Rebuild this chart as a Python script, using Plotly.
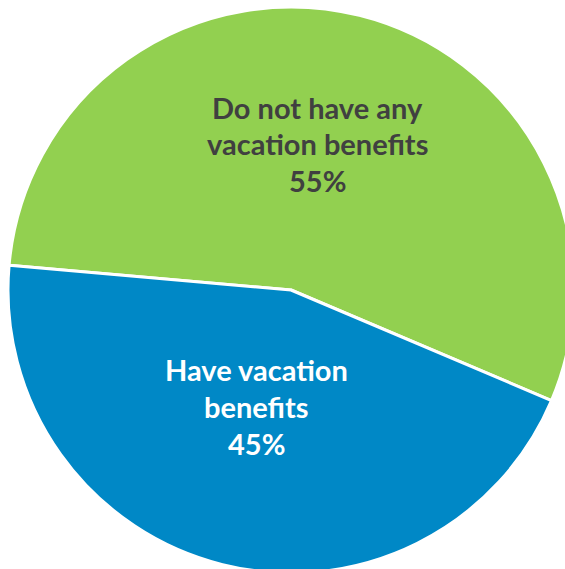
import plotly.graph_objects as go

# Survey split
labels = ["Do not have any vacation benefits", "Have vacation benefits"]
shares = [55, 45]
label_lines = [["Do not have any", "vacation benefits"], ["Have vacation", "benefits"]]
slice_colors = ["#92D050", "#0088C6"]
text_colors = ["#404040", "#FFFFFF"]

# Pie plot area geometry in pixels
SIDE = 566
ML, MT = 291 - SIDE // 2, 290 - SIDE // 2
W, H = ML + SIDE, MT + SIDE

fig = go.Figure(
    go.Pie(
        labels=labels,
        values=shares,
        sort=False,
        direction="clockwise",
        rotation=-85,
        marker=dict(colors=slice_colors, line=dict(color="white", width=3)),
        textinfo="none",
        hoverinfo="label+percent",
        showlegend=False,
    )
)


def to_paper(px, py):
    return (px - ML) / SIDE, 1 - (py - MT) / SIDE


# Label block centres (pixels) and line spacing
label_centres = [(317, 144), (256, 406)]
line_gap = 37

annotations = []
for lines, share, (cx, cy), col in zip(label_lines, shares, label_centres, text_colors):
    rows = lines + [f"{share}%"]
    n = len(rows)
    for i, row in enumerate(rows):
        y = cy + (i - (n - 1) / 2) * line_gap
        x_p, y_p = to_paper(cx, y)
        annotations.append(
            dict(
                text=f"<b>{row}</b>",
                x=x_p,
                y=y_p,
                xref="paper",
                yref="paper",
                xanchor="center",
                yanchor="middle",
                showarrow=False,
                font=dict(family="Lato", size=29, color=col),
            )
        )

fig.update_layout(
    width=W,
    height=H,
    margin=dict(l=ML, t=MT, r=0, b=0, pad=0),
    paper_bgcolor="white",
    plot_bgcolor="white",
    annotations=annotations,
)

fig.write_html(
    "out.html",
    config={"displayModeBar": False},
    post_script="document.body.style.margin='0';document.body.style.overflow='hidden';document.documentElement.style.overflow='hidden';",
)
